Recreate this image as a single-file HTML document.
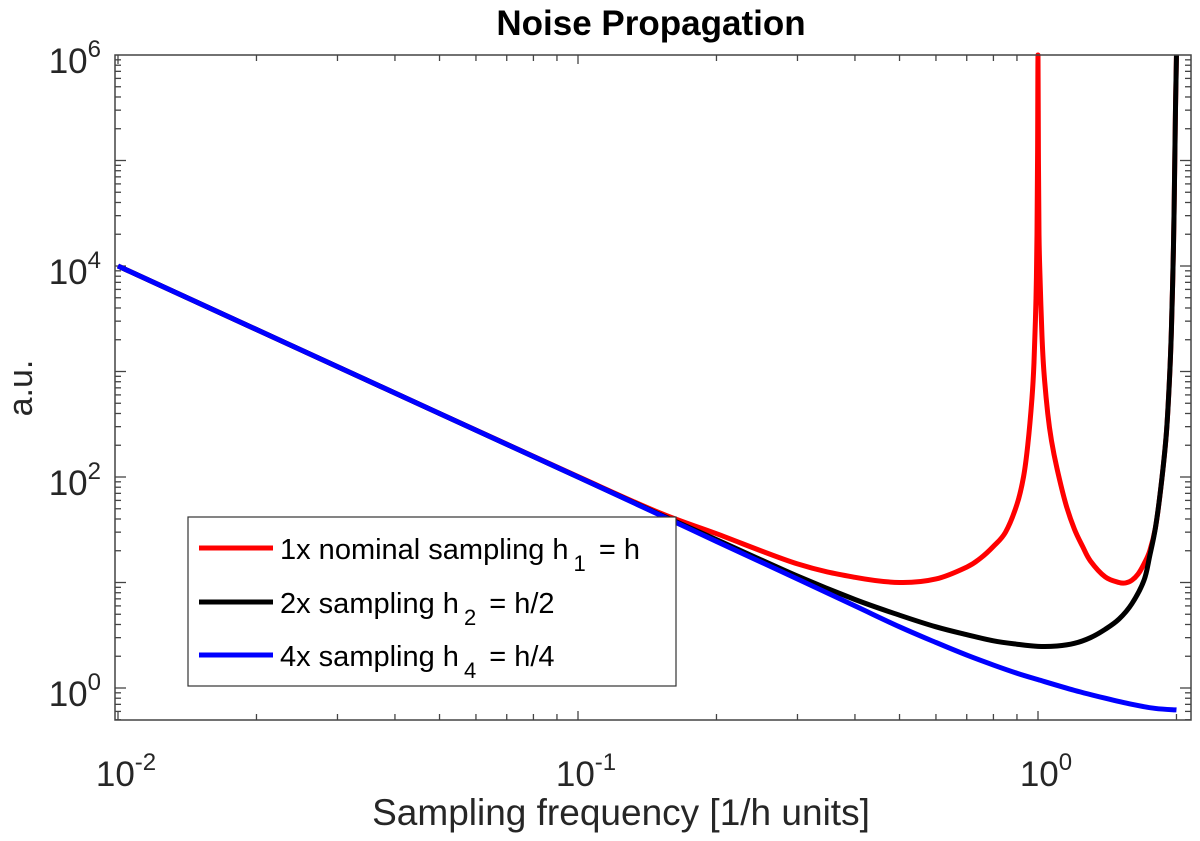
<!DOCTYPE html>
<html><head><meta charset="utf-8"><style>
body{margin:0;background:#fff}
svg{display:block;font-family:"Liberation Sans",sans-serif}
</style></head><body>
<svg id="chart" width="1200" height="841">
<text x="651" y="35" text-anchor="middle" font-size="35" font-weight="bold" fill="#000">Noise Propagation</text>
<text transform="translate(32,388) rotate(-90)" text-anchor="middle" font-size="34" fill="#262626">a.u.</text>
<text x="621" y="825" text-anchor="middle" font-size="37" fill="#262626">Sampling frequency [1/h units]</text>
<g id="ticks"></g>
<g id="series"></g>
<rect x="115" y="55" width="1076" height="665" fill="none" stroke="#444" stroke-width="1.5"/>
<g>
<rect x="188" y="517" width="488" height="169" fill="#fff" stroke="#333" stroke-width="1.2"/>
<line x1="199" y1="548" x2="273" y2="548" stroke="#f00" stroke-width="5"/>
<text x="280" y="559" font-size="29">1x nominal sampling h<tspan dx="5" dy="12" font-size="22">1</tspan><tspan dx="5" dy="-12"> = h</tspan></text>
<line x1="199" y1="602" x2="273" y2="602" stroke="#000" stroke-width="5"/>
<text x="280" y="613" font-size="29">2x sampling h<tspan dx="5" dy="12" font-size="22">2</tspan><tspan dx="5" dy="-12"> = h/2</tspan></text>
<line x1="199" y1="655" x2="273" y2="655" stroke="#00f" stroke-width="5"/>
<text x="280" y="666" font-size="29">4x sampling h<tspan dx="5" dy="12" font-size="22">4</tspan><tspan dx="5" dy="-12"> = h/4</tspan></text>
</g>
</svg>
<script>
const xTickExps=[-2,-1,0];
const yTickExps=[0,2,4,6];
const redF=[0.01,0.05,0.1,0.15,0.2,0.3,0.4,0.5,0.6,0.7,0.75,0.8,0.85,0.9,0.93,0.95,0.97,0.98,0.99,0.995,0.998,1.0,1.002,1.005,1.01,1.02,1.03,1.05,1.07,1.1,1.15,1.2,1.25,1.3,1.4,1.5,1.55,1.6,1.65,1.7,1.75,1.8,1.85,1.9,1.93,1.95,1.97,1.98,1.99,2.0];
const redV=[10000,400,101,46,29,15,11.2,10,10.8,14,17,22,30,55,100,200,550,1200,4900,20000,120000,1000000,120000,20000,8000,2200,1000,400,220,120,55,32,22,16,11.3,10,9.9,10.5,12,15,20,33,80,250,800,2500,15000,60000,300000,1000000];
const blackF=[0.01,0.05,0.1,0.15,0.2,0.3,0.4,0.5,0.6,0.7,0.8,0.9,1.0,1.1,1.2,1.3,1.4,1.5,1.6,1.7,1.75,1.8,1.85,1.9,1.93,1.95,1.97,1.98,1.99,2.0];
const blackV=[10000,400,100,44.5,25.5,11.5,6.9,4.9,3.8,3.2,2.8,2.6,2.48,2.5,2.65,3,3.6,4.5,6.3,10.5,18,33,80,250,800,2500,15000,60000,300000,1000000];
const blueF=[0.01,0.05,0.1,0.15,0.2,0.3,0.4,0.5,0.6,0.7,0.8,0.9,1.0,1.2,1.4,1.6,1.8,2.0];
const blueV=[10000,400,100,44,24.5,10.8,6,3.8,2.7,2.05,1.65,1.38,1.2,0.95,0.8,0.7,0.64,0.62];

const L=118,DX=460,T=55,Y0=688,DY=105.5,B=720,R=1191;
const xs=f=>L+DX*(Math.log10(f)+2);
const ys=v=>Math.max(T, Y0-DY*Math.log10(v));
const NS='http://www.w3.org/2000/svg';
const tg=document.getElementById('ticks');
function ln(x1,y1,x2,y2,name){const l=document.createElementNS(NS,'line');
l.setAttribute('x1',x1);l.setAttribute('y1',y1);l.setAttribute('x2',x2);l.setAttribute('y2',y2);
l.setAttribute('stroke','#444');l.setAttribute('stroke-width','1.3');


tg.appendChild(l);}
function lab(x,y,e,anchor,name){const t=document.createElementNS(NS,'text');
t.setAttribute('x',x);t.setAttribute('y',y);t.setAttribute('text-anchor',anchor);t.setAttribute('font-size','35');t.setAttribute('fill','#262626');
t.innerHTML='10<tspan dy="-16" font-size="24">'+e+'</tspan>';


tg.appendChild(t);}
for(let d=-2;d<=0;d++){for(let m=1;m<=9;m++){const f=m*Math.pow(10,d);const x=xs(f);if(x<L-4||x>R)continue;
const len=m===1?9:6;ln(x,B,x,B-len,'x-tick');ln(x,T,x,T+len,'x-tick');}}
xTickExps.forEach(e=>lab(xs(Math.pow(10,e))+8,786,e,'middle','x-tick-label'));
for(let d=-1;d<=5;d++){for(let m=1;m<=9;m++){const v=m*Math.pow(10,d);const y=Y0-DY*Math.log10(v);if(y<T||y>B)continue;
const len=m===1?11:6;ln(115,y,115+len,y,'y-tick');ln(R,y,R-len,y,'y-tick');}}
yTickExps.forEach(e=>lab(101,Y0-DY*e+18,e,'end','y-tick-label'));
const sg=document.getElementById('series');
function path(F,V,color,name){let pts=F.map((f,i)=>[xs(f),ys(V[i])]);
let d='M'+pts[0][0]+','+pts[0][1];
for(let i=0;i<pts.length-1;i++){const p0=pts[Math.max(0,i-1)],p1=pts[i],p2=pts[i+1],p3=pts[Math.min(pts.length-1,i+2)];
const c1=[p1[0]+(p2[0]-p0[0])/6,Math.max(T,p1[1]+(p2[1]-p0[1])/6)],c2=[p2[0]-(p3[0]-p1[0])/6,Math.max(T,p2[1]-(p3[1]-p1[1])/6)];
d+=' C'+c1+' '+c2+' '+p2;}
const p=document.createElementNS(NS,'path');p.setAttribute('d',d);p.setAttribute('fill','none');p.setAttribute('stroke',color);p.setAttribute('stroke-width','5');p.setAttribute('stroke-linejoin','round');


sg.appendChild(p);}
path(redF,redV,'#f00','series-1x-nominal');
path(blackF,blackV,'#000','series-2x');
path(blueF,blueV,'#00f','series-4x');
</script>
</body></html>
